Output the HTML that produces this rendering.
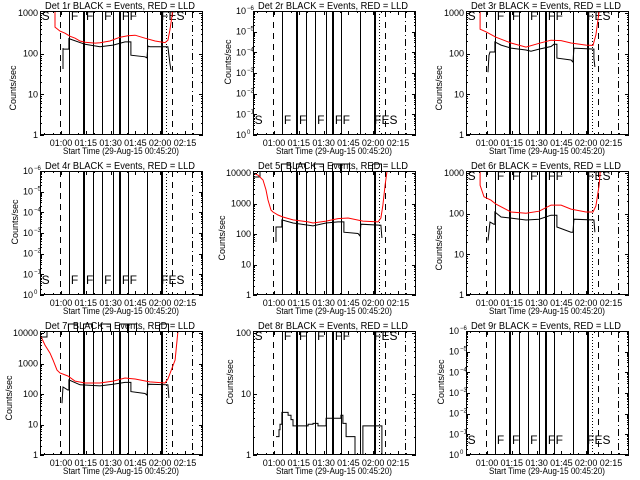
<!DOCTYPE html>
<html><head><meta charset="utf-8"><style>
html,body{margin:0;padding:0;background:#fff;}
svg{display:block;font-family:"Liberation Sans",sans-serif;}
</style></head><body>
<svg id="chart" width="640" height="480" viewBox="0 0 640 480" xmlns="http://www.w3.org/2000/svg">
<rect width="640" height="480" fill="#fff"/>
</svg>
<script>
// ---- data (time in minutes relative to 01:00, values in counts/sec) ----
const panelNames = ["1r","2r","3r","4r","5r","6r","7r","8r","9r"];
const xTickMinutes = [0,15,30,45,60,75];
const xTickLabels = ["01:00","01:15","01:30","01:45","02:00","02:15"];
const solidLineMinutes = [4.8,13.3,13.9,19.4,24.8,31.5,35.1,35.7,40.5,52.0,60.5,61.1];
const dashedLineMinutes = [-0.6,67.2];
const dottedLineMinutes = [63.5];
const dashDotLineMinutes = [79.3];
const letterMinutes = [-12.3,5.4,14.5,25.5,36.2,40.9,60.6];
const letterTexts = ["S","F","F","F","F","F","FES"];

const p1BlackT = [1.2,1.2,1.3,4.2,4.8,4.8,14.5,23.6,31.5,38.7,42.3,42.3,50.8,52.0,52.6,53.8,64.7,65.9,66.5];
const p1BlackV = [42,137,130,130,130,235,170,148,163,195,195,92,84,79,155,148,148,58,40];
const p1RedT = [-3.6,-3.6,-0.6,2.4,5.4,8.5,11.5,14.5,20.6,23.6,29.6,35.7,40.5,44.8,50.8,56.9,62.9,64.7,65.9,67.2,67.8];
const p1RedV = [2000,450,360,320,270,240,205,192,182,185,205,255,277,285,240,205,187,215,380,880,2000];

const p3BlackT = [0.6,1.2,1.8,4.2,4.8,4.8,8.5,14.5,23.6,26.6,31.5,38.7,40.5,42.3,42.3,50.8,52.0,52.6,64.7,64.7,65.3];
const p3BlackV = [35,92,110,110,110,195,163,137,123,115,130,150,170,170,78,70,62,137,130,78,47];
const p3RedT = [-4.2,-4.2,-0.6,5.4,14.5,23.6,31.5,38.7,44.8,50.8,59.9,64.1,65.9,67.8];
const p3RedV = [2000,400,345,255,183,145,180,215,210,183,163,160,290,1100];

const p5BlackT = [1.2,1.2,4.2,4.8,4.8,11.5,23.6,31.5,38.7,42.3,42.3,50.8,52.0,52.6,64.7,65.3];
const p5BlackV = [55,170,170,170,290,230,185,230,250,250,115,104,86,210,195,74];
const p5RedT = [-12.7,-9.7,-6.65,-4.84,-3.63,-1.81,-0.6,2.4,5.4,11.5,20.6,23.6,31.5,38.7,44.8,53.8,62.9,64.7,65.9,67.2,68.4];
const p5RedV = [10000,8500,5900,2800,1300,610,525,420,360,290,250,230,265,320,335,265,250,335,890,4000,12000];

const p6BlackT = [0.6,1.8,4.2,4.8,4.8,8.5,14.5,23.6,31.5,38.7,42.3,42.3,50.8,52.0,52.6,64.7,65.3];
const p6BlackV = [22,62,55,55,110,83,78,70,73,92,92,47,35,35,73,70,35];
const p6RedT = [-4.2,-4.2,-1.8,2.4,5.4,14.5,23.6,31.5,38.7,44.8,50.8,59.9,64.1,65.9,67.8,69.0];
const p6RedV = [2000,500,260,215,172,110,103,115,163,163,130,110,110,155,500,2000];

const p7BlackT = [0.6,1.2,4.2,4.8,4.8,11.5,23.6,31.5,38.7,42.3,42.3,50.8,52.0,52.6,64.7,65.3];
const p7BlackV = [50,170,135,135,290,200,185,210,240,240,120,104,92,210,200,74];
const p7RedT = [-12.7,-9.7,-6.65,-4.84,-2.42,-0.6,4.2,8.5,14.5,23.6,31.5,38.7,44.8,53.8,62.9,64.7,69.0,70.8];
const p7RedV = [9000,4000,2200,1300,610,490,390,265,230,230,265,335,310,250,230,310,1300,12000];

const p8BlackT = [1.2,3.0,3.6,4.8,7.3,8.5,10.3,11.5,14.5,17.5,20.6,23.6,26.6,31.5,38.7,40.5,41.7,43.6,47.8,49.0,52.0,53.8,62.9,65.3];
const p8BlackV = [2,2.6,3.2,5,5,4.5,3.8,3,3,3,3.2,3.3,3,4,4,4.5,3.3,2,2,1,1,3,3,1];

const yDecadeLabels1000 = ["1","10","100","1000"];
const yDecadeLabels10000 = ["1","10","100","1000","10000"];
const yDecadeLabels100 = ["1","10","100"];
const yFakeExps = ["0","-1","-2","-3","-4","-5","-6"];

// ---- rendering ----
const NS = "http://www.w3.org/2000/svg";
const svg = document.getElementById("chart");
function mk(tag, attrs, parent){
  const e = document.createElementNS(NS, tag);
  for (const k in attrs) e.setAttribute(k, attrs[k]);
  (parent||svg).appendChild(e);
  return e;
}
const panels = [
  {logTop:3.05, labels:yDecadeLabels1000, black:[p1BlackT,p1BlackV], red:[p1RedT,p1RedV], letterY:20, ytx:13, yty:88},
  {fake:true, letterY:124, ytx:15, yty:62},
  {logTop:3.05, labels:yDecadeLabels1000, black:[p3BlackT,p3BlackV], red:[p3RedT,p3RedV], letterY:20, ytx:13, yty:88},
  {fake:true, letterY:124, ytx:15, yty:62},
  {logTop:4.066, labels:yDecadeLabels10000, black:[p5BlackT,p5BlackV], red:[p5RedT,p5RedV], hooks:true, ytx:9, yty:78},
  {logTop:3.05, labels:yDecadeLabels1000, black:[p6BlackT,p6BlackV], red:[p6RedT,p6RedV], letterY:20, ytx:13, yty:88},
  {logTop:4.066, labels:yDecadeLabels10000, black:[p7BlackT,p7BlackV], red:[p7RedT,p7RedV], hooks:true, ytx:9, yty:78},
  {logTop:2.033, labels:yDecadeLabels100, black:[p8BlackT,p8BlackV], step:true, letterY:20, ytx:17, yty:62},
  {fake:true, letterY:124, ytx:15, yty:62}
];

panels.forEach((p, i) => {
  const ox = (i%3)*213, oy = Math.floor(i/3)*160;
  const x0 = ox+40, x1 = ox+203, y0 = oy+11, y1 = oy+135;
  const xs = t => ox + 61 + t*1.653;
  const ys = v => y1 - (Math.log10(v)/p.logTop)*(y1-y0);
  const g = mk("g", {});
  
  
  const cp = mk("clipPath", {id:"cp"+i}, g);
  mk("rect", {x:x0, y:y0, width:x1-x0, height:y1-y0}, cp);

  // title
  const title = mk("text", {x:ox+120, y:oy+9, "text-anchor":"middle", "font-size":"10", textLength:"150", lengthAdjust:"spacingAndGlyphs"}, g);
  title.textContent = "Det " + panelNames[i] + " BLACK = Events, RED = LLD";
  
  

  // vertical marker lines
  const vl = mk("g", {"clip-path":"url(#cp"+i+")", stroke:"#000", "stroke-width":"1"}, g);
  
  
  solidLineMinutes.forEach(t => mk("line", {x1:Math.round(xs(t))+0.5, x2:Math.round(xs(t))+0.5, y1:y0, y2:y1}, vl));
  dashedLineMinutes.forEach(t => mk("line", {x1:Math.round(xs(t))+0.5, x2:Math.round(xs(t))+0.5, y1:y0, y2:y1, "stroke-dasharray":"6,5"}, vl));
  dottedLineMinutes.forEach(t => mk("line", {x1:Math.round(xs(t))+0.5, x2:Math.round(xs(t))+0.5, y1:y0, y2:y1, "stroke-dasharray":"1,2"}, vl));
  dashDotLineMinutes.forEach(t => mk("line", {x1:Math.round(xs(t))+0.5, x2:Math.round(xs(t))+0.5, y1:y0, y2:y1, "stroke-dasharray":"7,3,1,3"}, vl));

  // letters / hooks
  if (p.hooks) {
    const hk = mk("g", {stroke:"#000", fill:"none", "stroke-width":"1"}, g);
    
    
    letterMinutes.forEach((t, k) => {
      const x = Math.round(xs(t))-1.5;
      if (k === 0) mk("path", {d:`M${x0+0.5},${y0+6} H${x0+7} V${y0}`}, hk);
      else mk("path", {d:`M${x},${y0} V${oy+4} H${x+9} V${y0}`}, hk);
    });
  } else {
    letterMinutes.forEach((t, k) => {
      const tx = mk("text", {x:xs(t)+ (k===6?0:1), y:oy+p.letterY, "font-size":"12", "clip-path":"url(#cp"+i+")"}, g);
      tx.textContent = letterTexts[k];
      
      
    });
  }

  // data series
  const line = (T, V, color, name) => {
    let d = "";
    T.forEach((t, k) => {
      const x = xs(t).toFixed(1), y = ys(V[k]).toFixed(1);
      if (k === 0) d += `M${x},${y}`;
      else if (p.step) d += `H${x}V${y}`;
      else d += `L${x},${y}`;
    });
    const pa = mk("path", {d:d, fill:"none", stroke:color, "stroke-width":"1", "clip-path":"url(#cp"+i+")"}, g);
    
    
  };
  if (p.red) line(p.red[0], p.red[1], "#ff0000", "lld-series-red");
  if (p.black) line(p.black[0], p.black[1], "#000000", "events-series-black");

  // axes box
  const box = mk("rect", {x:x0+0.5, y:y0+0.5, width:x1-x0-1, height:y1-y0-1, fill:"none", stroke:"#000", "stroke-width":"1"}, g);
  
  

  // x ticks
  const xt = mk("g", {stroke:"#000", "stroke-width":"1"}, g);
  
  
  for (let t = -10; t <= 85; t += 5) {
    const x = Math.round(xs(t))+0.5;
    if (x <= x0 || x >= x1) continue;
    const len = (t % 15 === 0) ? 4 : 2;
    mk("line", {x1:x, x2:x, y1:y1, y2:y1-len}, xt);
    mk("line", {x1:x, x2:x, y1:y0, y2:y0+len}, xt);
  }
  xTickMinutes.forEach((t, k) => {
    const tx = mk("text", {x:xs(t), y:oy+146, "text-anchor":"middle", "font-size":"9"}, g);
    tx.textContent = xTickLabels[k];
    
    
  });
  const xtitle = mk("text", {x:ox+121, y:oy+154, "text-anchor":"middle", "font-size":"9.5", textLength:"116", lengthAdjust:"spacingAndGlyphs"}, g);
  xtitle.textContent = "Start Time (29-Aug-15 00:45:20)";
  
  

  // y ticks
  const yt = mk("g", {stroke:"#000", "stroke-width":"1"}, g);
  
  
  const tick = (y, len) => {
    y = Math.round(y)+0.5;
    mk("line", {x1:x0, x2:x0+len, y1:y, y2:y}, yt);
    mk("line", {x1:x1, x2:x1-len, y1:y, y2:y}, yt);
  };
  if (p.fake) {
    const step = (y1-y0)/6;
    yFakeExps.forEach((e, k) => {
      const y = y1 - k*step;
      tick(y, 4);
      if (k < 6) for (let m = 2; m <= 9; m++) tick(y - Math.log10(m)*step, 2);
      const tx = mk("text", {x:ox+33, y:y+3, "text-anchor":"end", "font-size":"9"}, g);
      tx.textContent = "10";
      
      
      const sp = mk("text", {x:ox+34, y:y-1, "font-size":"6"}, g);
      sp.textContent = e.replace("-", "\u2212");
      
      
    });
  } else {
    p.labels.forEach((lab, k) => {
      const v = Math.pow(10, k);
      tick(ys(v), 4);
      for (let m = 2; m <= 9; m++) { const y = ys(v*m); if (y > y0) tick(y, 2); }
      const tx = mk("text", {x:ox+38, y:ys(v)+3, "text-anchor":"end", "font-size":"9"}, g);
      tx.textContent = lab;
      
      
    });
  }
  const ytitle = mk("text", {x:0, y:0, "text-anchor":"middle", "font-size":"9", transform:`translate(${ox+p.ytx+3},${oy+p.yty}) rotate(-90)`}, g);
  ytitle.textContent = "Counts/sec";
  
  
});
</script>
</body></html>
